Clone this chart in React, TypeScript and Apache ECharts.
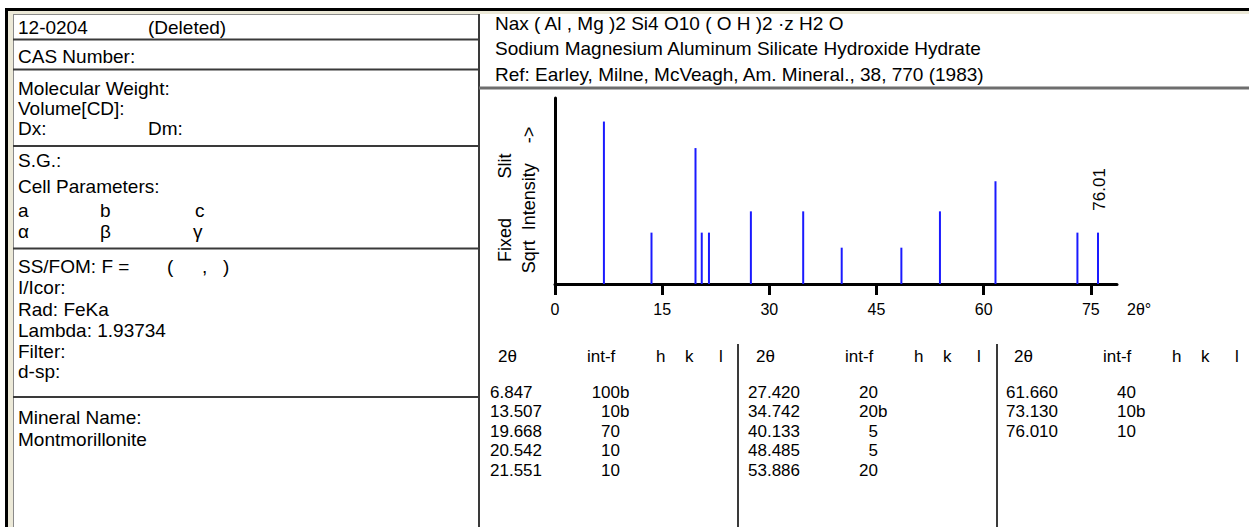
import { useEffect, useRef } from 'react';
import * as echarts from 'echarts';

// ---------- data ----------
const twoTheta = [6.847, 13.507, 19.668, 20.542, 21.551, 27.42, 34.742, 40.133, 48.485, 53.886, 61.66, 73.13, 76.01];
const intensity = [100, 10, 70, 10, 10, 20, 20, 5, 5, 20, 40, 10, 10];
const intensityFlag = ['b', 'b', '', '', '', '', 'b', '', '', '', '', 'b', ''];
const xTicks = [0, 15, 30, 45, 60, 75];
const labelledPeaks = [76.01];
const tableHeaders = ['2θ', 'int-f', 'h', 'k', 'l'];

const cardNumber = '12-0204';
const cardStatus = '(Deleted)';
const formula = 'Nax ( Al , Mg )2 Si4 O10 ( O H )2 ·z H2 O';
const compoundName = 'Sodium Magnesium Aluminum Silicate Hydroxide Hydrate';
const reference = 'Ref: Earley, Milne, McVeagh, Am. Mineral., 38, 770 (1983)';
const radiation = 'Rad: FeKa';
const lambda = 'Lambda: 1.93734';
const mineralName = 'Montmorillonite';

const FONT = '"Liberation Sans", Arial, Helvetica, sans-serif';
const LINE = '#3a3a3a';

function txt(text: string, x: number, baseline: number, size = 19, extra: any = {}) {
  return {
    type: 'text',
    x,
    y: baseline - size * 0.35,
    silent: true,
    style: {
      text,
      fill: '#000',
      fontSize: size,
      fontFamily: FONT,
      textAlign: 'left',
      textVerticalAlign: 'middle',
      ...extra,
    },
  };
}
function hline(x1: number, x2: number, y: number, w = 2, c = LINE) {
  return { type: 'line', silent: true, shape: { x1, y1: y, x2, y2: y }, style: { stroke: c, lineWidth: w } };
}
function vline(x: number, y1: number, y2: number, w = 2, c = LINE) {
  return { type: 'line', silent: true, shape: { x1: x, y1, x2: x, y2 }, style: { stroke: c, lineWidth: w } };
}
function rect(x: number, y: number, width: number, height: number, fill: string) {
  return { type: 'rect', silent: true, shape: { x, y, width, height }, style: { fill } };
}

function buildGraphic() {
  const els: any[] = [];
  // outer frame
  els.push(rect(5, 8, 1244, 3, '#000'));
  els.push(rect(5, 8, 3, 519, '#000'));
  els.push(rect(8, 11, 1241, 3, '#ece9d8'));
  els.push(rect(8, 11, 5, 516, '#ece9d8'));
  els.push(vline(13.5, 14, 527, 1, '#8a8a8a'));
  els.push(hline(13, 479, 14.5, 1, '#8a8a8a'));
  // panel dividers
  els.push(vline(479, 14, 527, 2));
  [39.5, 69.5, 146, 248.5, 397].forEach((y) => els.push(hline(13, 479, y, 2)));
  els.push(hline(479, 1249, 88, 3, '#6e6e6e'));
  els.push(vline(738, 344, 527, 2));
  els.push(vline(997, 344, 527, 2));

  // left panel text
  els.push(txt(cardNumber, 18, 34));
  els.push(txt(cardStatus, 148, 34));
  els.push(txt('CAS Number:', 18, 63));
  els.push(txt('Molecular Weight:', 18, 95));
  els.push(txt('Volume[CD]:', 18, 115));
  els.push(txt('Dx:', 18, 135));
  els.push(txt('Dm:', 148, 135));
  els.push(txt('S.G.:', 18, 167));
  els.push(txt('Cell Parameters:', 18, 193));
  els.push(txt('a', 18, 217));
  els.push(txt('b', 100, 217));
  els.push(txt('c', 195, 217));
  els.push(txt('α', 18, 238));
  els.push(txt('β', 100, 238));
  els.push(txt('γ', 193, 238));
  els.push(txt('SS/FOM: F =', 18, 273));
  els.push(txt('(', 167, 273));
  els.push(txt(',', 202, 273));
  els.push(txt(')', 223, 273));
  els.push(txt('I/Icor:', 18, 294));
  els.push(txt(radiation, 18, 316));
  els.push(txt(lambda, 18, 337));
  els.push(txt('Filter:', 18, 358));
  els.push(txt('d-sp:', 18, 378));
  els.push(txt('Mineral Name:', 18, 424));
  els.push(txt(mineralName, 18, 446));

  // right header
  els.push(txt(formula, 495, 30));
  els.push(txt(compoundName, 495, 55));
  els.push(txt(reference, 495, 81));

  // y axis caption (rotated)
  const rot = (text: string, x: number, y: number, size: number, align = 'center') => ({
    type: 'text',
    x,
    y,
    rotation: Math.PI / 2,
    silent: true,
    style: { text, fill: '#000', fontSize: size, fontFamily: FONT, textAlign: align, textVerticalAlign: 'middle' },
  });
  els.push(rot('Fixed', 505, 240, 18));
  els.push(rot('Slit', 505, 166, 18));
  els.push(rot('Sqrt  Intensity    ->', 529, 200, 18));

  // peak table
  const anchors = [490, 748, 1006];
  const headerOffsets = [8, 97, 166, 195, 229];
  const tSize = 17;
  anchors.forEach((ax, c) => {
    tableHeaders.forEach((h, k) => {
      els.push(txt(h, ax + headerOffsets[k], 362, tSize));
    });
    for (let r = 0; r < 5; r++) {
      const i = c * 5 + r;
      if (i >= twoTheta.length) break;
      const base = 398 + r * 19.5;
      els.push(txt(twoTheta[i].toFixed(3), ax, base, tSize));
      els.push(txt(String(intensity[i]), ax + 130, base, tSize, { textAlign: 'right' }));
      if (intensityFlag[i]) els.push(txt(intensityFlag[i], ax + 130, base, tSize));
    }
  });
  return els;
}

export default function App() {
  const ref = useRef<HTMLDivElement>(null);
  useEffect(() => {
    if (!ref.current) return;
    const chart = echarts.init(ref.current, undefined, { renderer: 'svg' });
    const data = twoTheta.map((x, i) => [x, Math.sqrt(intensity[i])]);
    chart.setOption({
      animation: false,
      backgroundColor: '#ffffff',
      grid: { left: 555, top: 98, width: 562, height: 186, containLabel: false },
      xAxis: {
        type: 'value',
        min: 0,
        max: 78.67,
        interval: 15,
        axisLine: { show: true, onZero: false, lineStyle: { color: '#000', width: 3 } },
        axisTick: { show: true, customValues: xTicks, length: 11, lineStyle: { color: '#000', width: 3 } },
        axisLabel: { show: true, customValues: xTicks, color: '#000', fontSize: 16, fontFamily: FONT, margin: 17 },
        splitLine: { show: false },
        name: '2θ°',
        nameLocation: 'end',
        nameGap: 10,
        nameTextStyle: { color: '#000', fontSize: 16, fontFamily: FONT, align: 'left', verticalAlign: 'top', padding: [17, 0, 0, 0] },
      },
      yAxis: {
        type: 'value',
        min: 0,
        max: 11.45,
        axisLine: { show: true, onZero: false, lineStyle: { color: '#000', width: 3 } },
        axisTick: { show: false },
        axisLabel: { show: false },
        splitLine: { show: false },
      },
      series: [
        {
          type: 'custom',
          clip: false,
          data,
          renderItem: (_params: any, api: any) => {
            const x = api.value(0);
            const y = api.value(1);
            const base = api.coord([x, 0]);
            const top = api.coord([x, y]);
            const children: any[] = [
              {
                type: 'rect',
                shape: { x: base[0] - 1, y: top[1], width: 2, height: base[1] - top[1] },
                style: { fill: '#1a1aff' },
              },
            ];
            if (labelledPeaks.includes(x)) {
              children.push({
                type: 'text',
                x: top[0] + 2,
                y: top[1] - 22,
                rotation: Math.PI / 2,
                style: {
                  text: x.toFixed(2),
                  fill: '#000',
                  fontSize: 17,
                  fontFamily: FONT,
                  align: 'left',
                  verticalAlign: 'middle',
                },
              });
            }
            return { type: 'group', children };
          },
        },
      ],
      graphic: { elements: buildGraphic() },
    });
    return () => chart.dispose();
  }, []);
  return <div ref={ref} style={{ position: 'absolute', left: 0, top: 0, width: 1249, height: 527 }} />;
}
